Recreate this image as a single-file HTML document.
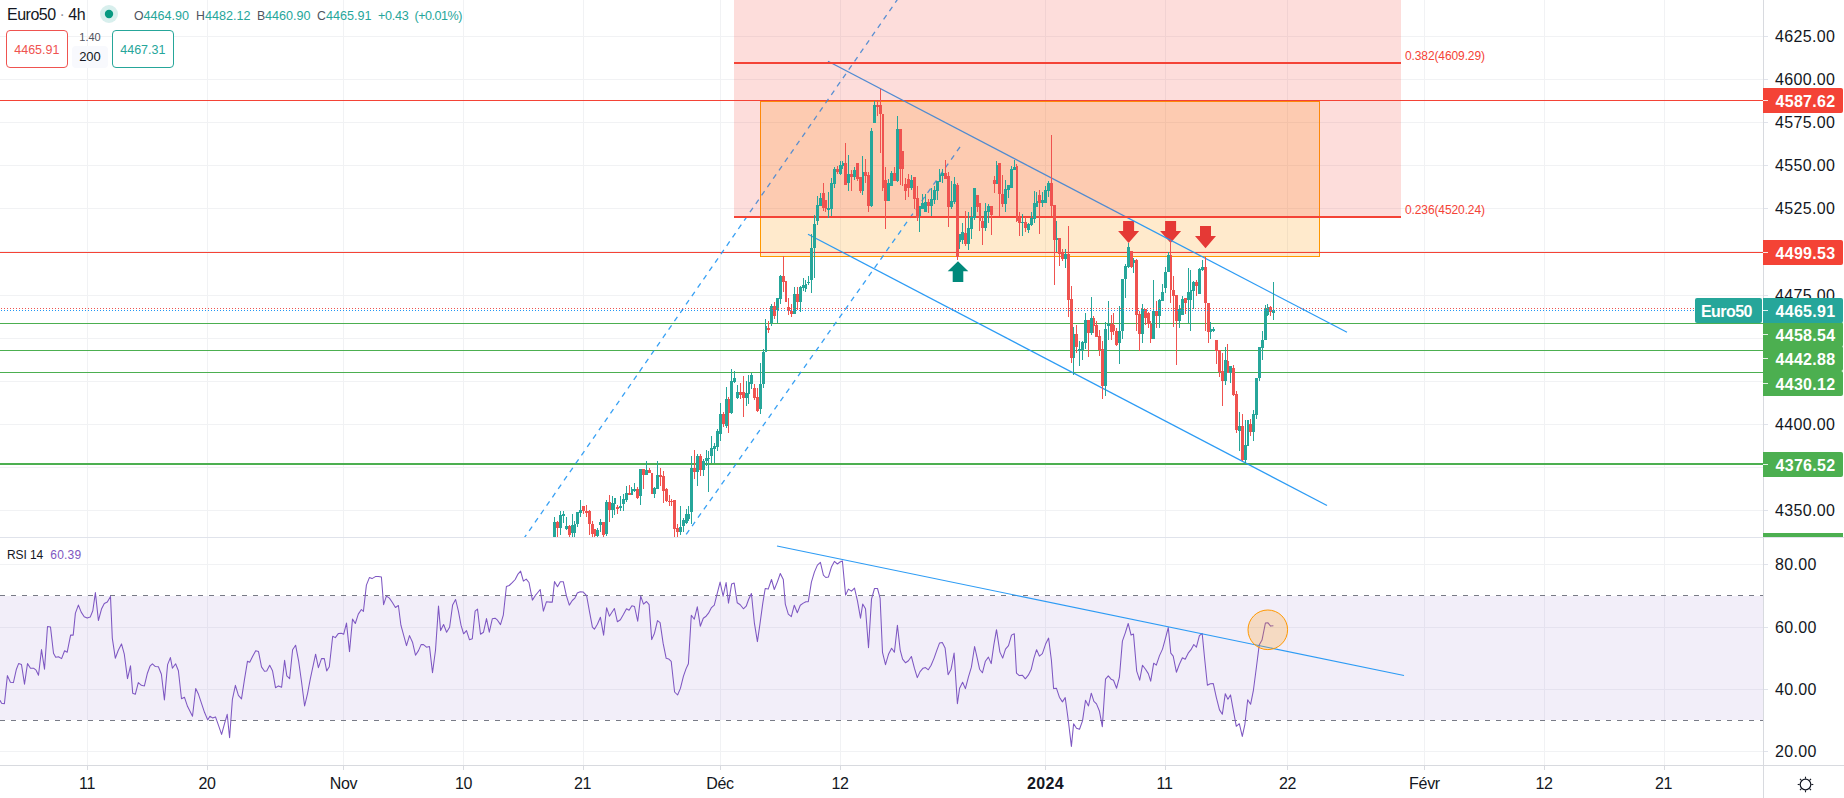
<!DOCTYPE html>
<html><head><meta charset="utf-8"><title>Euro50</title><style>
html,body{margin:0;padding:0;background:#fff}
body{width:1844px;height:798px;position:relative;overflow:hidden;font-family:"Liberation Sans",sans-serif;color:#131722}
svg{position:absolute;left:0;top:0}
svg text{font-family:"Liberation Sans",sans-serif}
.pl{position:absolute;left:1763px;width:80px;text-align:left;font-size:16px;white-space:nowrap;letter-spacing:0.35px;border-radius:0 2px 2px 0;box-sizing:border-box;padding-left:11.9px}
.pl.b{letter-spacing:0.3px;padding-left:12.5px}
.sym{position:absolute;left:1695px;top:298px;width:67px;height:25px;line-height:27px;background:#26a69a;color:#fff;font-weight:bold;font-size:16px;text-align:left;padding-left:6px;box-sizing:border-box;border-radius:2px;letter-spacing:-0.55px}
.pl i{position:absolute;left:0;top:12px;width:5px;height:1px;background:rgba(255,255,255,0.85)}
.tl{position:absolute;top:774px;width:80px;margin-left:-40px;text-align:center;font-size:16px;line-height:20px;letter-spacing:-0.3px}
.t{position:absolute;white-space:nowrap}
.mask{position:absolute;left:1764px;top:538px;width:80px;height:20px;background:#fff}

.hd{top:8px;font-size:12.3px;line-height:16px;color:#50535e}
.hv{top:8px;font-size:12.6px;line-height:16px;color:#26a69a}
.box{position:absolute;top:30px;height:36px;line-height:38px;border:1px solid;border-radius:4px;text-align:center;font-size:12.5px;background:#fff}
</style></head>
<body>
<svg width="1844" height="798" viewBox="0 0 1844 798" shape-rendering="auto">
<rect x="87" y="0" width="1" height="765" fill="#f1f2f4"/>
<rect x="207" y="0" width="1" height="765" fill="#f1f2f4"/>
<rect x="343" y="0" width="1" height="765" fill="#f1f2f4"/>
<rect x="463" y="0" width="1" height="765" fill="#f1f2f4"/>
<rect x="583" y="0" width="1" height="765" fill="#f1f2f4"/>
<rect x="720" y="0" width="1" height="765" fill="#f1f2f4"/>
<rect x="840" y="0" width="1" height="765" fill="#f1f2f4"/>
<rect x="1045" y="0" width="1" height="765" fill="#f1f2f4"/>
<rect x="1165" y="0" width="1" height="765" fill="#f1f2f4"/>
<rect x="1287" y="0" width="1" height="765" fill="#f1f2f4"/>
<rect x="1424" y="0" width="1" height="765" fill="#f1f2f4"/>
<rect x="1544" y="0" width="1" height="765" fill="#f1f2f4"/>
<rect x="1664" y="0" width="1" height="765" fill="#f1f2f4"/>
<rect x="0" y="36" width="1763" height="1" fill="#f1f2f4"/>
<rect x="0" y="79" width="1763" height="1" fill="#f1f2f4"/>
<rect x="0" y="122" width="1763" height="1" fill="#f1f2f4"/>
<rect x="0" y="165" width="1763" height="1" fill="#f1f2f4"/>
<rect x="0" y="208" width="1763" height="1" fill="#f1f2f4"/>
<rect x="0" y="251" width="1763" height="1" fill="#f1f2f4"/>
<rect x="0" y="295" width="1763" height="1" fill="#f1f2f4"/>
<rect x="0" y="338" width="1763" height="1" fill="#f1f2f4"/>
<rect x="0" y="381" width="1763" height="1" fill="#f1f2f4"/>
<rect x="0" y="424" width="1763" height="1" fill="#f1f2f4"/>
<rect x="0" y="467" width="1763" height="1" fill="#f1f2f4"/>
<rect x="0" y="510" width="1763" height="1" fill="#f1f2f4"/>
<rect x="0" y="564" width="1763" height="1" fill="#f1f2f4"/>
<rect x="0" y="627" width="1763" height="1" fill="#f1f2f4"/>
<rect x="0" y="689" width="1763" height="1" fill="#f1f2f4"/>
<rect x="0" y="751" width="1763" height="1" fill="#f1f2f4"/>
<clipPath id="mp"><rect x="0" y="0" width="1763" height="537"/></clipPath>
<clipPath id="rp"><rect x="0" y="538" width="1763" height="227"/></clipPath>
<g clip-path="url(#mp)">
<rect x="760.5" y="101.5" width="559" height="155" fill="rgb(255,152,0)" fill-opacity="0.2" stroke="#ff9800" stroke-width="1"/>
<rect x="0" y="100" width="1763" height="1" fill="#f44336"/>
<rect x="0" y="252" width="1763" height="1" fill="#f44336"/>
<rect x="0" y="323" width="1763" height="1" fill="#4caf50"/>
<rect x="0" y="350" width="1763" height="1" fill="#4caf50"/>
<rect x="0" y="372" width="1763" height="1" fill="#4caf50"/>
<rect x="0" y="463" width="1763" height="2" fill="#4caf50"/>
<path d="M1123.1,221 H1134.1 V231 H1139.1 L1128.6,243 L1118.1,231 H1123.1 Z" fill="#e53935"/>
<path d="M1165.1,221 H1176.1 V231 H1181.1 L1170.6,243 L1160.1,231 H1165.1 Z" fill="#e53935"/>
<path d="M1200.0,226 H1211.0 V236 H1216.0 L1205.5,248.2 L1195.0,236 H1200.0 Z" fill="#e53935"/>
<path d="M958,261.3 L968.3,271.3 H963.3 V282 H952.7 V271.3 H947.7 Z" fill="#00897b"/>
<line x1="904.0" y1="-10.0" x2="519.3" y2="545.0" stroke="#2196f3" stroke-width="1.3" stroke-dasharray="5.2 5" stroke-opacity="0.9"/>
<line x1="960.0" y1="147.0" x2="678.7" y2="545.0" stroke="#2196f3" stroke-width="1.3" stroke-dasharray="5.2 5" stroke-opacity="0.9"/>
<line x1="828.0" y1="61.3" x2="1347.0" y2="332.3" stroke="#2196f3" stroke-width="1.25" stroke-opacity="0.95"/>
<line x1="808.0" y1="234.2" x2="1327.0" y2="505.5" stroke="#2196f3" stroke-width="1.25" stroke-opacity="0.95"/>
<rect x="734" y="0" width="667" height="216.5" fill="rgb(244,67,54)" fill-opacity="0.18"/>
<rect x="734" y="62" width="667" height="2" fill="#f44336"/>
<rect x="734" y="216" width="667" height="2" fill="#f44336"/>
<rect x="554" y="517" width="1" height="20" fill="#26a69a"/>
<rect x="553" y="522" width="3" height="15" fill="#26a69a"/>
<rect x="557" y="521" width="1" height="16" fill="#ef5350"/>
<rect x="556" y="522" width="3" height="6" fill="#ef5350"/>
<rect x="560" y="511" width="1" height="24" fill="#26a69a"/>
<rect x="559" y="515" width="3" height="13" fill="#26a69a"/>
<rect x="563" y="511" width="1" height="12" fill="#26a69a"/>
<rect x="562" y="514" width="3" height="2" fill="#26a69a"/>
<rect x="566" y="517" width="1" height="13" fill="#26a69a"/>
<rect x="565" y="526" width="3" height="3" fill="#26a69a"/>
<rect x="569" y="525" width="1" height="12" fill="#ef5350"/>
<rect x="568" y="526" width="3" height="9" fill="#ef5350"/>
<rect x="572" y="514" width="1" height="23" fill="#26a69a"/>
<rect x="571" y="525" width="3" height="8" fill="#26a69a"/>
<rect x="574" y="521" width="1" height="16" fill="#26a69a"/>
<rect x="574" y="524" width="2" height="9" fill="#26a69a"/>
<rect x="577" y="512" width="1" height="15" fill="#26a69a"/>
<rect x="576" y="512" width="3" height="12" fill="#26a69a"/>
<rect x="580" y="500" width="1" height="17" fill="#26a69a"/>
<rect x="579" y="510" width="3" height="3" fill="#26a69a"/>
<rect x="583" y="506" width="1" height="8" fill="#ef5350"/>
<rect x="582" y="506" width="3" height="5" fill="#ef5350"/>
<rect x="586" y="505" width="1" height="12" fill="#ef5350"/>
<rect x="585" y="511" width="3" height="2" fill="#ef5350"/>
<rect x="589" y="510" width="1" height="25" fill="#ef5350"/>
<rect x="588" y="511" width="3" height="13" fill="#ef5350"/>
<rect x="592" y="521" width="1" height="16" fill="#ef5350"/>
<rect x="591" y="524" width="3" height="10" fill="#ef5350"/>
<rect x="594" y="529" width="1" height="8" fill="#ef5350"/>
<rect x="594" y="529" width="2" height="7" fill="#ef5350"/>
<rect x="597" y="528" width="1" height="9" fill="#26a69a"/>
<rect x="596" y="530" width="3" height="6" fill="#26a69a"/>
<rect x="600" y="519" width="1" height="13" fill="#26a69a"/>
<rect x="599" y="522" width="3" height="3" fill="#26a69a"/>
<rect x="603" y="522" width="1" height="15" fill="#ef5350"/>
<rect x="602" y="522" width="3" height="13" fill="#ef5350"/>
<rect x="606" y="500" width="1" height="36" fill="#26a69a"/>
<rect x="605" y="502" width="3" height="32" fill="#26a69a"/>
<rect x="609" y="495" width="1" height="27" fill="#ef5350"/>
<rect x="608" y="502" width="3" height="8" fill="#ef5350"/>
<rect x="612" y="496" width="1" height="22" fill="#26a69a"/>
<rect x="611" y="503" width="3" height="7" fill="#26a69a"/>
<rect x="614" y="498" width="1" height="17" fill="#26a69a"/>
<rect x="614" y="498" width="2" height="6" fill="#26a69a"/>
<rect x="617" y="505" width="1" height="9" fill="#ef5350"/>
<rect x="616" y="507" width="3" height="2" fill="#ef5350"/>
<rect x="620" y="496" width="1" height="15" fill="#26a69a"/>
<rect x="619" y="506" width="3" height="2" fill="#26a69a"/>
<rect x="623" y="494" width="1" height="17" fill="#26a69a"/>
<rect x="622" y="499" width="3" height="5" fill="#26a69a"/>
<rect x="626" y="486" width="1" height="16" fill="#26a69a"/>
<rect x="625" y="493" width="3" height="7" fill="#26a69a"/>
<rect x="629" y="485" width="1" height="10" fill="#ef5350"/>
<rect x="628" y="493" width="3" height="2" fill="#ef5350"/>
<rect x="631" y="487" width="1" height="8" fill="#26a69a"/>
<rect x="631" y="489" width="2" height="6" fill="#26a69a"/>
<rect x="634" y="483" width="1" height="9" fill="#26a69a"/>
<rect x="633" y="489" width="3" height="2" fill="#26a69a"/>
<rect x="637" y="487" width="1" height="12" fill="#ef5350"/>
<rect x="636" y="489" width="3" height="9" fill="#ef5350"/>
<rect x="640" y="469" width="1" height="36" fill="#26a69a"/>
<rect x="639" y="469" width="3" height="27" fill="#26a69a"/>
<rect x="643" y="469" width="1" height="20" fill="#ef5350"/>
<rect x="642" y="469" width="3" height="6" fill="#ef5350"/>
<rect x="646" y="461" width="1" height="14" fill="#26a69a"/>
<rect x="645" y="470" width="3" height="5" fill="#26a69a"/>
<rect x="649" y="468" width="1" height="5" fill="#ef5350"/>
<rect x="648" y="470" width="3" height="3" fill="#ef5350"/>
<rect x="651" y="473" width="1" height="21" fill="#ef5350"/>
<rect x="651" y="473" width="2" height="21" fill="#ef5350"/>
<rect x="654" y="487" width="1" height="11" fill="#26a69a"/>
<rect x="653" y="488" width="3" height="6" fill="#26a69a"/>
<rect x="657" y="461" width="1" height="28" fill="#26a69a"/>
<rect x="656" y="475" width="3" height="14" fill="#26a69a"/>
<rect x="660" y="468" width="1" height="18" fill="#ef5350"/>
<rect x="659" y="475" width="3" height="2" fill="#ef5350"/>
<rect x="663" y="471" width="1" height="32" fill="#ef5350"/>
<rect x="662" y="476" width="3" height="15" fill="#ef5350"/>
<rect x="666" y="488" width="1" height="14" fill="#ef5350"/>
<rect x="665" y="489" width="3" height="12" fill="#ef5350"/>
<rect x="669" y="495" width="1" height="11" fill="#ef5350"/>
<rect x="668" y="501" width="3" height="1" fill="#ef5350"/>
<rect x="671" y="499" width="1" height="7" fill="#ef5350"/>
<rect x="671" y="501" width="2" height="1" fill="#ef5350"/>
<rect x="674" y="500" width="1" height="37" fill="#ef5350"/>
<rect x="673" y="500" width="3" height="29" fill="#ef5350"/>
<rect x="677" y="524" width="1" height="13" fill="#ef5350"/>
<rect x="676" y="528" width="3" height="4" fill="#ef5350"/>
<rect x="680" y="506" width="1" height="29" fill="#26a69a"/>
<rect x="679" y="527" width="3" height="5" fill="#26a69a"/>
<rect x="683" y="518" width="1" height="14" fill="#26a69a"/>
<rect x="682" y="520" width="3" height="6" fill="#26a69a"/>
<rect x="686" y="509" width="1" height="15" fill="#26a69a"/>
<rect x="685" y="514" width="3" height="9" fill="#26a69a"/>
<rect x="688" y="506" width="1" height="15" fill="#26a69a"/>
<rect x="688" y="514" width="2" height="5" fill="#26a69a"/>
<rect x="691" y="456" width="1" height="68" fill="#26a69a"/>
<rect x="690" y="468" width="3" height="44" fill="#26a69a"/>
<rect x="694" y="450" width="1" height="29" fill="#ef5350"/>
<rect x="693" y="468" width="3" height="4" fill="#ef5350"/>
<rect x="697" y="454" width="1" height="32" fill="#26a69a"/>
<rect x="696" y="456" width="3" height="16" fill="#26a69a"/>
<rect x="700" y="454" width="1" height="22" fill="#ef5350"/>
<rect x="699" y="456" width="3" height="14" fill="#ef5350"/>
<rect x="703" y="459" width="1" height="17" fill="#26a69a"/>
<rect x="702" y="461" width="3" height="9" fill="#26a69a"/>
<rect x="706" y="450" width="1" height="16" fill="#26a69a"/>
<rect x="705" y="458" width="3" height="3" fill="#26a69a"/>
<rect x="708" y="451" width="1" height="41" fill="#26a69a"/>
<rect x="708" y="458" width="2" height="1" fill="#26a69a"/>
<rect x="711" y="436" width="1" height="27" fill="#26a69a"/>
<rect x="710" y="448" width="3" height="8" fill="#26a69a"/>
<rect x="714" y="443" width="1" height="20" fill="#26a69a"/>
<rect x="713" y="446" width="3" height="3" fill="#26a69a"/>
<rect x="717" y="429" width="1" height="22" fill="#26a69a"/>
<rect x="716" y="431" width="3" height="16" fill="#26a69a"/>
<rect x="720" y="403" width="1" height="38" fill="#26a69a"/>
<rect x="719" y="414" width="3" height="20" fill="#26a69a"/>
<rect x="723" y="412" width="1" height="15" fill="#ef5350"/>
<rect x="722" y="414" width="3" height="10" fill="#ef5350"/>
<rect x="726" y="387" width="1" height="41" fill="#26a69a"/>
<rect x="725" y="399" width="3" height="27" fill="#26a69a"/>
<rect x="728" y="397" width="1" height="36" fill="#ef5350"/>
<rect x="728" y="399" width="2" height="14" fill="#ef5350"/>
<rect x="731" y="369" width="1" height="45" fill="#26a69a"/>
<rect x="730" y="381" width="3" height="32" fill="#26a69a"/>
<rect x="734" y="371" width="1" height="12" fill="#26a69a"/>
<rect x="733" y="378" width="3" height="4" fill="#26a69a"/>
<rect x="737" y="385" width="1" height="14" fill="#26a69a"/>
<rect x="736" y="392" width="3" height="6" fill="#26a69a"/>
<rect x="740" y="383" width="1" height="16" fill="#ef5350"/>
<rect x="739" y="392" width="3" height="3" fill="#ef5350"/>
<rect x="743" y="376" width="1" height="41" fill="#ef5350"/>
<rect x="742" y="392" width="3" height="6" fill="#ef5350"/>
<rect x="746" y="381" width="1" height="25" fill="#26a69a"/>
<rect x="745" y="393" width="3" height="5" fill="#26a69a"/>
<rect x="748" y="375" width="1" height="29" fill="#26a69a"/>
<rect x="748" y="382" width="2" height="12" fill="#26a69a"/>
<rect x="751" y="373" width="1" height="16" fill="#26a69a"/>
<rect x="750" y="375" width="3" height="9" fill="#26a69a"/>
<rect x="754" y="384" width="1" height="16" fill="#ef5350"/>
<rect x="753" y="388" width="3" height="10" fill="#ef5350"/>
<rect x="757" y="388" width="1" height="24" fill="#ef5350"/>
<rect x="756" y="397" width="3" height="14" fill="#ef5350"/>
<rect x="760" y="363" width="1" height="51" fill="#26a69a"/>
<rect x="759" y="384" width="3" height="25" fill="#26a69a"/>
<rect x="763" y="349" width="1" height="39" fill="#26a69a"/>
<rect x="762" y="352" width="3" height="32" fill="#26a69a"/>
<rect x="765" y="319" width="1" height="33" fill="#26a69a"/>
<rect x="765" y="326" width="2" height="26" fill="#26a69a"/>
<rect x="768" y="321" width="1" height="12" fill="#ef5350"/>
<rect x="767" y="328" width="3" height="2" fill="#ef5350"/>
<rect x="771" y="304" width="1" height="22" fill="#26a69a"/>
<rect x="770" y="306" width="3" height="17" fill="#26a69a"/>
<rect x="774" y="302" width="1" height="17" fill="#ef5350"/>
<rect x="773" y="306" width="3" height="10" fill="#ef5350"/>
<rect x="777" y="298" width="1" height="25" fill="#26a69a"/>
<rect x="776" y="298" width="3" height="12" fill="#26a69a"/>
<rect x="780" y="275" width="1" height="29" fill="#26a69a"/>
<rect x="779" y="276" width="3" height="23" fill="#26a69a"/>
<rect x="783" y="256" width="1" height="36" fill="#ef5350"/>
<rect x="782" y="276" width="3" height="6" fill="#ef5350"/>
<rect x="785" y="281" width="1" height="21" fill="#ef5350"/>
<rect x="785" y="281" width="2" height="21" fill="#ef5350"/>
<rect x="788" y="298" width="1" height="17" fill="#ef5350"/>
<rect x="787" y="307" width="3" height="4" fill="#ef5350"/>
<rect x="791" y="304" width="1" height="13" fill="#ef5350"/>
<rect x="790" y="311" width="3" height="3" fill="#ef5350"/>
<rect x="794" y="287" width="1" height="27" fill="#26a69a"/>
<rect x="793" y="294" width="3" height="20" fill="#26a69a"/>
<rect x="797" y="287" width="1" height="23" fill="#ef5350"/>
<rect x="796" y="294" width="3" height="8" fill="#ef5350"/>
<rect x="800" y="286" width="1" height="26" fill="#26a69a"/>
<rect x="799" y="287" width="3" height="15" fill="#26a69a"/>
<rect x="803" y="278" width="1" height="13" fill="#26a69a"/>
<rect x="802" y="285" width="3" height="3" fill="#26a69a"/>
<rect x="805" y="280" width="1" height="12" fill="#26a69a"/>
<rect x="805" y="284" width="2" height="5" fill="#26a69a"/>
<rect x="808" y="276" width="1" height="9" fill="#26a69a"/>
<rect x="807" y="282" width="3" height="1" fill="#26a69a"/>
<rect x="811" y="234" width="1" height="59" fill="#26a69a"/>
<rect x="810" y="248" width="3" height="32" fill="#26a69a"/>
<rect x="814" y="215" width="1" height="63" fill="#26a69a"/>
<rect x="813" y="224" width="3" height="24" fill="#26a69a"/>
<rect x="817" y="196" width="1" height="29" fill="#26a69a"/>
<rect x="816" y="205" width="3" height="16" fill="#26a69a"/>
<rect x="820" y="193" width="1" height="13" fill="#26a69a"/>
<rect x="819" y="198" width="3" height="8" fill="#26a69a"/>
<rect x="823" y="183" width="1" height="28" fill="#ef5350"/>
<rect x="822" y="193" width="3" height="15" fill="#ef5350"/>
<rect x="825" y="200" width="1" height="12" fill="#ef5350"/>
<rect x="825" y="200" width="2" height="9" fill="#ef5350"/>
<rect x="828" y="192" width="1" height="26" fill="#26a69a"/>
<rect x="827" y="208" width="3" height="2" fill="#26a69a"/>
<rect x="831" y="178" width="1" height="38" fill="#26a69a"/>
<rect x="830" y="183" width="3" height="26" fill="#26a69a"/>
<rect x="834" y="167" width="1" height="21" fill="#26a69a"/>
<rect x="833" y="169" width="3" height="15" fill="#26a69a"/>
<rect x="837" y="166" width="1" height="8" fill="#ef5350"/>
<rect x="836" y="169" width="3" height="3" fill="#ef5350"/>
<rect x="840" y="161" width="1" height="14" fill="#26a69a"/>
<rect x="839" y="165" width="3" height="9" fill="#26a69a"/>
<rect x="842" y="161" width="1" height="8" fill="#26a69a"/>
<rect x="842" y="163" width="2" height="3" fill="#26a69a"/>
<rect x="845" y="143" width="1" height="42" fill="#ef5350"/>
<rect x="844" y="163" width="3" height="22" fill="#ef5350"/>
<rect x="848" y="155" width="1" height="36" fill="#26a69a"/>
<rect x="847" y="174" width="3" height="9" fill="#26a69a"/>
<rect x="851" y="170" width="1" height="21" fill="#ef5350"/>
<rect x="850" y="174" width="3" height="3" fill="#ef5350"/>
<rect x="854" y="167" width="1" height="13" fill="#26a69a"/>
<rect x="853" y="170" width="3" height="7" fill="#26a69a"/>
<rect x="857" y="163" width="1" height="18" fill="#ef5350"/>
<rect x="856" y="163" width="3" height="16" fill="#ef5350"/>
<rect x="860" y="177" width="1" height="16" fill="#ef5350"/>
<rect x="859" y="177" width="3" height="14" fill="#ef5350"/>
<rect x="862" y="156" width="1" height="39" fill="#26a69a"/>
<rect x="862" y="172" width="2" height="19" fill="#26a69a"/>
<rect x="865" y="159" width="1" height="24" fill="#ef5350"/>
<rect x="864" y="172" width="3" height="4" fill="#ef5350"/>
<rect x="868" y="172" width="1" height="40" fill="#ef5350"/>
<rect x="867" y="175" width="3" height="31" fill="#ef5350"/>
<rect x="871" y="128" width="1" height="79" fill="#26a69a"/>
<rect x="870" y="131" width="3" height="75" fill="#26a69a"/>
<rect x="874" y="101" width="1" height="22" fill="#26a69a"/>
<rect x="873" y="105" width="3" height="18" fill="#26a69a"/>
<rect x="877" y="101" width="1" height="15" fill="#ef5350"/>
<rect x="876" y="105" width="3" height="2" fill="#ef5350"/>
<rect x="880" y="89" width="1" height="64" fill="#ef5350"/>
<rect x="879" y="105" width="3" height="9" fill="#ef5350"/>
<rect x="882" y="114" width="1" height="77" fill="#ef5350"/>
<rect x="882" y="114" width="2" height="74" fill="#ef5350"/>
<rect x="885" y="167" width="1" height="62" fill="#ef5350"/>
<rect x="884" y="180" width="3" height="21" fill="#ef5350"/>
<rect x="888" y="179" width="1" height="22" fill="#26a69a"/>
<rect x="887" y="183" width="3" height="18" fill="#26a69a"/>
<rect x="891" y="171" width="1" height="15" fill="#26a69a"/>
<rect x="890" y="173" width="3" height="13" fill="#26a69a"/>
<rect x="894" y="167" width="1" height="14" fill="#ef5350"/>
<rect x="893" y="173" width="3" height="8" fill="#ef5350"/>
<rect x="897" y="116" width="1" height="66" fill="#26a69a"/>
<rect x="896" y="129" width="3" height="52" fill="#26a69a"/>
<rect x="900" y="129" width="1" height="56" fill="#ef5350"/>
<rect x="899" y="129" width="3" height="40" fill="#ef5350"/>
<rect x="902" y="151" width="1" height="35" fill="#ef5350"/>
<rect x="902" y="151" width="2" height="18" fill="#ef5350"/>
<rect x="905" y="178" width="1" height="22" fill="#ef5350"/>
<rect x="904" y="184" width="3" height="7" fill="#ef5350"/>
<rect x="908" y="174" width="1" height="23" fill="#ef5350"/>
<rect x="907" y="179" width="3" height="9" fill="#ef5350"/>
<rect x="911" y="175" width="1" height="15" fill="#26a69a"/>
<rect x="910" y="180" width="3" height="8" fill="#26a69a"/>
<rect x="914" y="177" width="1" height="32" fill="#ef5350"/>
<rect x="913" y="177" width="3" height="22" fill="#ef5350"/>
<rect x="917" y="186" width="1" height="35" fill="#ef5350"/>
<rect x="916" y="198" width="3" height="20" fill="#ef5350"/>
<rect x="919" y="206" width="1" height="26" fill="#26a69a"/>
<rect x="919" y="206" width="2" height="10" fill="#26a69a"/>
<rect x="922" y="194" width="1" height="15" fill="#26a69a"/>
<rect x="921" y="203" width="3" height="6" fill="#26a69a"/>
<rect x="925" y="194" width="1" height="18" fill="#26a69a"/>
<rect x="924" y="202" width="3" height="10" fill="#26a69a"/>
<rect x="928" y="199" width="1" height="14" fill="#ef5350"/>
<rect x="927" y="202" width="3" height="4" fill="#ef5350"/>
<rect x="931" y="188" width="1" height="28" fill="#26a69a"/>
<rect x="930" y="199" width="3" height="7" fill="#26a69a"/>
<rect x="934" y="186" width="1" height="18" fill="#26a69a"/>
<rect x="933" y="190" width="3" height="10" fill="#26a69a"/>
<rect x="937" y="181" width="1" height="19" fill="#26a69a"/>
<rect x="936" y="181" width="3" height="10" fill="#26a69a"/>
<rect x="939" y="169" width="1" height="13" fill="#26a69a"/>
<rect x="939" y="175" width="2" height="7" fill="#26a69a"/>
<rect x="942" y="169" width="1" height="14" fill="#26a69a"/>
<rect x="941" y="173" width="3" height="3" fill="#26a69a"/>
<rect x="945" y="160" width="1" height="19" fill="#ef5350"/>
<rect x="944" y="173" width="3" height="6" fill="#ef5350"/>
<rect x="948" y="172" width="1" height="55" fill="#ef5350"/>
<rect x="947" y="176" width="3" height="31" fill="#ef5350"/>
<rect x="951" y="181" width="1" height="28" fill="#26a69a"/>
<rect x="950" y="201" width="3" height="6" fill="#26a69a"/>
<rect x="954" y="177" width="1" height="27" fill="#26a69a"/>
<rect x="953" y="184" width="3" height="18" fill="#26a69a"/>
<rect x="957" y="183" width="1" height="77" fill="#ef5350"/>
<rect x="956" y="185" width="3" height="72" fill="#ef5350"/>
<rect x="959" y="234" width="1" height="15" fill="#26a69a"/>
<rect x="959" y="234" width="2" height="8" fill="#26a69a"/>
<rect x="962" y="223" width="1" height="21" fill="#26a69a"/>
<rect x="961" y="232" width="3" height="8" fill="#26a69a"/>
<rect x="965" y="211" width="1" height="35" fill="#ef5350"/>
<rect x="964" y="233" width="3" height="11" fill="#ef5350"/>
<rect x="968" y="212" width="1" height="38" fill="#26a69a"/>
<rect x="967" y="228" width="3" height="16" fill="#26a69a"/>
<rect x="971" y="207" width="1" height="32" fill="#26a69a"/>
<rect x="970" y="217" width="3" height="12" fill="#26a69a"/>
<rect x="974" y="188" width="1" height="32" fill="#26a69a"/>
<rect x="973" y="188" width="3" height="30" fill="#26a69a"/>
<rect x="977" y="195" width="1" height="17" fill="#ef5350"/>
<rect x="976" y="195" width="3" height="12" fill="#ef5350"/>
<rect x="979" y="203" width="1" height="28" fill="#ef5350"/>
<rect x="979" y="203" width="2" height="18" fill="#ef5350"/>
<rect x="982" y="217" width="1" height="28" fill="#ef5350"/>
<rect x="981" y="221" width="3" height="7" fill="#ef5350"/>
<rect x="985" y="203" width="1" height="28" fill="#26a69a"/>
<rect x="984" y="211" width="3" height="17" fill="#26a69a"/>
<rect x="988" y="204" width="1" height="19" fill="#26a69a"/>
<rect x="987" y="206" width="3" height="6" fill="#26a69a"/>
<rect x="991" y="206" width="1" height="29" fill="#ef5350"/>
<rect x="990" y="206" width="3" height="9" fill="#ef5350"/>
<rect x="994" y="176" width="1" height="17" fill="#ef5350"/>
<rect x="993" y="180" width="3" height="4" fill="#ef5350"/>
<rect x="996" y="161" width="1" height="23" fill="#26a69a"/>
<rect x="996" y="165" width="2" height="19" fill="#26a69a"/>
<rect x="999" y="163" width="1" height="53" fill="#ef5350"/>
<rect x="998" y="163" width="3" height="31" fill="#ef5350"/>
<rect x="1002" y="175" width="1" height="32" fill="#ef5350"/>
<rect x="1001" y="194" width="3" height="10" fill="#ef5350"/>
<rect x="1005" y="180" width="1" height="32" fill="#26a69a"/>
<rect x="1004" y="189" width="3" height="15" fill="#26a69a"/>
<rect x="1008" y="185" width="1" height="13" fill="#26a69a"/>
<rect x="1007" y="185" width="3" height="5" fill="#26a69a"/>
<rect x="1011" y="166" width="1" height="22" fill="#26a69a"/>
<rect x="1010" y="169" width="3" height="19" fill="#26a69a"/>
<rect x="1014" y="160" width="1" height="10" fill="#26a69a"/>
<rect x="1013" y="167" width="3" height="3" fill="#26a69a"/>
<rect x="1016" y="164" width="1" height="58" fill="#ef5350"/>
<rect x="1016" y="166" width="2" height="55" fill="#ef5350"/>
<rect x="1019" y="212" width="1" height="24" fill="#ef5350"/>
<rect x="1018" y="218" width="3" height="5" fill="#ef5350"/>
<rect x="1022" y="214" width="1" height="22" fill="#26a69a"/>
<rect x="1021" y="222" width="3" height="1" fill="#26a69a"/>
<rect x="1025" y="217" width="1" height="15" fill="#ef5350"/>
<rect x="1024" y="222" width="3" height="6" fill="#ef5350"/>
<rect x="1028" y="223" width="1" height="10" fill="#26a69a"/>
<rect x="1027" y="224" width="3" height="6" fill="#26a69a"/>
<rect x="1031" y="212" width="1" height="14" fill="#26a69a"/>
<rect x="1030" y="218" width="3" height="7" fill="#26a69a"/>
<rect x="1034" y="191" width="1" height="32" fill="#26a69a"/>
<rect x="1033" y="203" width="3" height="16" fill="#26a69a"/>
<rect x="1036" y="192" width="1" height="15" fill="#26a69a"/>
<rect x="1036" y="201" width="2" height="6" fill="#26a69a"/>
<rect x="1039" y="190" width="1" height="44" fill="#ef5350"/>
<rect x="1038" y="195" width="3" height="8" fill="#ef5350"/>
<rect x="1042" y="192" width="1" height="15" fill="#26a69a"/>
<rect x="1041" y="200" width="3" height="3" fill="#26a69a"/>
<rect x="1045" y="186" width="1" height="17" fill="#26a69a"/>
<rect x="1044" y="190" width="3" height="13" fill="#26a69a"/>
<rect x="1048" y="181" width="1" height="16" fill="#26a69a"/>
<rect x="1047" y="183" width="3" height="8" fill="#26a69a"/>
<rect x="1051" y="135" width="1" height="81" fill="#ef5350"/>
<rect x="1050" y="183" width="3" height="23" fill="#ef5350"/>
<rect x="1054" y="205" width="1" height="80" fill="#ef5350"/>
<rect x="1053" y="205" width="3" height="35" fill="#ef5350"/>
<rect x="1056" y="221" width="1" height="31" fill="#26a69a"/>
<rect x="1056" y="238" width="2" height="2" fill="#26a69a"/>
<rect x="1059" y="238" width="1" height="28" fill="#ef5350"/>
<rect x="1058" y="238" width="3" height="16" fill="#ef5350"/>
<rect x="1062" y="249" width="1" height="12" fill="#ef5350"/>
<rect x="1061" y="253" width="3" height="6" fill="#ef5350"/>
<rect x="1065" y="249" width="1" height="19" fill="#26a69a"/>
<rect x="1064" y="254" width="3" height="5" fill="#26a69a"/>
<rect x="1068" y="226" width="1" height="91" fill="#ef5350"/>
<rect x="1067" y="254" width="3" height="46" fill="#ef5350"/>
<rect x="1071" y="286" width="1" height="77" fill="#ef5350"/>
<rect x="1070" y="299" width="3" height="59" fill="#ef5350"/>
<rect x="1073" y="327" width="1" height="48" fill="#26a69a"/>
<rect x="1073" y="334" width="2" height="24" fill="#26a69a"/>
<rect x="1076" y="325" width="1" height="28" fill="#ef5350"/>
<rect x="1075" y="334" width="3" height="13" fill="#ef5350"/>
<rect x="1079" y="341" width="1" height="25" fill="#26a69a"/>
<rect x="1078" y="349" width="3" height="2" fill="#26a69a"/>
<rect x="1082" y="341" width="1" height="19" fill="#26a69a"/>
<rect x="1081" y="342" width="3" height="8" fill="#26a69a"/>
<rect x="1085" y="313" width="1" height="36" fill="#26a69a"/>
<rect x="1084" y="320" width="3" height="23" fill="#26a69a"/>
<rect x="1088" y="320" width="1" height="37" fill="#ef5350"/>
<rect x="1087" y="320" width="3" height="13" fill="#ef5350"/>
<rect x="1091" y="297" width="1" height="38" fill="#26a69a"/>
<rect x="1090" y="318" width="3" height="15" fill="#26a69a"/>
<rect x="1093" y="316" width="1" height="17" fill="#ef5350"/>
<rect x="1093" y="318" width="2" height="8" fill="#ef5350"/>
<rect x="1096" y="321" width="1" height="16" fill="#ef5350"/>
<rect x="1095" y="325" width="3" height="12" fill="#ef5350"/>
<rect x="1099" y="330" width="1" height="26" fill="#ef5350"/>
<rect x="1098" y="336" width="3" height="14" fill="#ef5350"/>
<rect x="1102" y="341" width="1" height="58" fill="#ef5350"/>
<rect x="1101" y="349" width="3" height="37" fill="#ef5350"/>
<rect x="1105" y="322" width="1" height="74" fill="#26a69a"/>
<rect x="1104" y="329" width="3" height="57" fill="#26a69a"/>
<rect x="1108" y="301" width="1" height="39" fill="#26a69a"/>
<rect x="1107" y="324" width="3" height="2" fill="#26a69a"/>
<rect x="1111" y="315" width="1" height="25" fill="#ef5350"/>
<rect x="1110" y="324" width="3" height="8" fill="#ef5350"/>
<rect x="1113" y="313" width="1" height="22" fill="#ef5350"/>
<rect x="1113" y="325" width="2" height="6" fill="#ef5350"/>
<rect x="1116" y="328" width="1" height="18" fill="#ef5350"/>
<rect x="1115" y="331" width="3" height="14" fill="#ef5350"/>
<rect x="1119" y="306" width="1" height="58" fill="#26a69a"/>
<rect x="1118" y="331" width="3" height="12" fill="#26a69a"/>
<rect x="1122" y="279" width="1" height="60" fill="#26a69a"/>
<rect x="1121" y="279" width="3" height="52" fill="#26a69a"/>
<rect x="1125" y="264" width="1" height="34" fill="#26a69a"/>
<rect x="1124" y="266" width="3" height="13" fill="#26a69a"/>
<rect x="1128" y="243" width="1" height="25" fill="#26a69a"/>
<rect x="1127" y="247" width="3" height="20" fill="#26a69a"/>
<rect x="1131" y="251" width="1" height="17" fill="#ef5350"/>
<rect x="1130" y="251" width="3" height="16" fill="#ef5350"/>
<rect x="1133" y="258" width="1" height="15" fill="#26a69a"/>
<rect x="1133" y="260" width="2" height="3" fill="#26a69a"/>
<rect x="1136" y="259" width="1" height="72" fill="#ef5350"/>
<rect x="1135" y="260" width="3" height="55" fill="#ef5350"/>
<rect x="1139" y="311" width="1" height="40" fill="#ef5350"/>
<rect x="1138" y="314" width="3" height="20" fill="#ef5350"/>
<rect x="1142" y="304" width="1" height="39" fill="#26a69a"/>
<rect x="1141" y="309" width="3" height="25" fill="#26a69a"/>
<rect x="1145" y="309" width="1" height="16" fill="#ef5350"/>
<rect x="1144" y="309" width="3" height="9" fill="#ef5350"/>
<rect x="1148" y="312" width="1" height="16" fill="#ef5350"/>
<rect x="1147" y="313" width="3" height="11" fill="#ef5350"/>
<rect x="1150" y="321" width="1" height="22" fill="#ef5350"/>
<rect x="1150" y="324" width="2" height="15" fill="#ef5350"/>
<rect x="1153" y="280" width="1" height="59" fill="#26a69a"/>
<rect x="1152" y="311" width="3" height="28" fill="#26a69a"/>
<rect x="1156" y="301" width="1" height="27" fill="#ef5350"/>
<rect x="1155" y="311" width="3" height="5" fill="#ef5350"/>
<rect x="1159" y="299" width="1" height="29" fill="#26a69a"/>
<rect x="1158" y="300" width="3" height="16" fill="#26a69a"/>
<rect x="1162" y="284" width="1" height="17" fill="#26a69a"/>
<rect x="1161" y="292" width="3" height="9" fill="#26a69a"/>
<rect x="1165" y="267" width="1" height="26" fill="#26a69a"/>
<rect x="1164" y="272" width="3" height="16" fill="#26a69a"/>
<rect x="1168" y="252" width="1" height="20" fill="#26a69a"/>
<rect x="1167" y="255" width="3" height="17" fill="#26a69a"/>
<rect x="1170" y="240" width="1" height="63" fill="#ef5350"/>
<rect x="1170" y="255" width="2" height="35" fill="#ef5350"/>
<rect x="1173" y="276" width="1" height="51" fill="#ef5350"/>
<rect x="1172" y="290" width="3" height="6" fill="#ef5350"/>
<rect x="1176" y="295" width="1" height="70" fill="#ef5350"/>
<rect x="1175" y="295" width="3" height="26" fill="#ef5350"/>
<rect x="1179" y="305" width="1" height="23" fill="#26a69a"/>
<rect x="1178" y="309" width="3" height="12" fill="#26a69a"/>
<rect x="1182" y="296" width="1" height="19" fill="#26a69a"/>
<rect x="1181" y="299" width="3" height="16" fill="#26a69a"/>
<rect x="1185" y="298" width="1" height="16" fill="#ef5350"/>
<rect x="1184" y="298" width="3" height="5" fill="#ef5350"/>
<rect x="1188" y="268" width="1" height="55" fill="#26a69a"/>
<rect x="1187" y="292" width="3" height="8" fill="#26a69a"/>
<rect x="1190" y="270" width="1" height="61" fill="#26a69a"/>
<rect x="1190" y="290" width="2" height="10" fill="#26a69a"/>
<rect x="1193" y="281" width="1" height="28" fill="#26a69a"/>
<rect x="1192" y="282" width="3" height="9" fill="#26a69a"/>
<rect x="1196" y="280" width="1" height="16" fill="#ef5350"/>
<rect x="1195" y="282" width="3" height="4" fill="#ef5350"/>
<rect x="1199" y="268" width="1" height="26" fill="#26a69a"/>
<rect x="1198" y="269" width="3" height="25" fill="#26a69a"/>
<rect x="1202" y="260" width="1" height="11" fill="#26a69a"/>
<rect x="1201" y="267" width="3" height="3" fill="#26a69a"/>
<rect x="1205" y="257" width="1" height="74" fill="#ef5350"/>
<rect x="1204" y="267" width="3" height="36" fill="#ef5350"/>
<rect x="1208" y="303" width="1" height="40" fill="#ef5350"/>
<rect x="1207" y="303" width="3" height="29" fill="#ef5350"/>
<rect x="1210" y="322" width="1" height="17" fill="#26a69a"/>
<rect x="1210" y="329" width="2" height="3" fill="#26a69a"/>
<rect x="1213" y="327" width="1" height="5" fill="#26a69a"/>
<rect x="1212" y="329" width="3" height="2" fill="#26a69a"/>
<rect x="1216" y="340" width="1" height="24" fill="#ef5350"/>
<rect x="1215" y="340" width="3" height="11" fill="#ef5350"/>
<rect x="1219" y="350" width="1" height="27" fill="#ef5350"/>
<rect x="1218" y="350" width="3" height="22" fill="#ef5350"/>
<rect x="1222" y="353" width="1" height="53" fill="#ef5350"/>
<rect x="1221" y="371" width="3" height="10" fill="#ef5350"/>
<rect x="1225" y="347" width="1" height="38" fill="#26a69a"/>
<rect x="1224" y="360" width="3" height="21" fill="#26a69a"/>
<rect x="1227" y="344" width="1" height="29" fill="#ef5350"/>
<rect x="1227" y="361" width="2" height="12" fill="#ef5350"/>
<rect x="1230" y="366" width="1" height="17" fill="#26a69a"/>
<rect x="1229" y="366" width="3" height="7" fill="#26a69a"/>
<rect x="1233" y="365" width="1" height="31" fill="#ef5350"/>
<rect x="1232" y="368" width="3" height="27" fill="#ef5350"/>
<rect x="1236" y="391" width="1" height="42" fill="#ef5350"/>
<rect x="1235" y="394" width="3" height="36" fill="#ef5350"/>
<rect x="1239" y="412" width="1" height="39" fill="#26a69a"/>
<rect x="1238" y="426" width="3" height="5" fill="#26a69a"/>
<rect x="1242" y="414" width="1" height="47" fill="#ef5350"/>
<rect x="1241" y="426" width="3" height="34" fill="#ef5350"/>
<rect x="1245" y="420" width="1" height="43" fill="#26a69a"/>
<rect x="1244" y="445" width="3" height="15" fill="#26a69a"/>
<rect x="1247" y="420" width="1" height="26" fill="#26a69a"/>
<rect x="1247" y="420" width="2" height="26" fill="#26a69a"/>
<rect x="1250" y="419" width="1" height="17" fill="#ef5350"/>
<rect x="1249" y="424" width="3" height="8" fill="#ef5350"/>
<rect x="1253" y="410" width="1" height="31" fill="#26a69a"/>
<rect x="1252" y="414" width="3" height="18" fill="#26a69a"/>
<rect x="1256" y="378" width="1" height="41" fill="#26a69a"/>
<rect x="1255" y="378" width="3" height="37" fill="#26a69a"/>
<rect x="1259" y="347" width="1" height="34" fill="#26a69a"/>
<rect x="1258" y="347" width="3" height="31" fill="#26a69a"/>
<rect x="1262" y="331" width="1" height="29" fill="#26a69a"/>
<rect x="1261" y="340" width="3" height="8" fill="#26a69a"/>
<rect x="1265" y="305" width="1" height="35" fill="#26a69a"/>
<rect x="1264" y="308" width="3" height="32" fill="#26a69a"/>
<rect x="1267" y="304" width="1" height="12" fill="#26a69a"/>
<rect x="1267" y="307" width="2" height="8" fill="#26a69a"/>
<rect x="1270" y="306" width="1" height="10" fill="#ef5350"/>
<rect x="1269" y="307" width="3" height="5" fill="#ef5350"/>
<rect x="1273" y="282" width="1" height="38" fill="#26a69a"/>
<rect x="1272" y="310" width="3" height="3" fill="#26a69a"/>
<line x1="1" y1="308.5" x2="1697" y2="308.5" stroke="#ef5350" stroke-width="1" stroke-dasharray="1 2"/>
<line x1="1" y1="310.5" x2="1697" y2="310.5" stroke="#2196f3" stroke-width="1" stroke-dasharray="1 2"/>
</g>
<text x="1405" y="60" font-size="12" fill="#f44336" textLength="80">0.382(4609.29)</text>
<text x="1405" y="214" font-size="12" fill="#f44336" textLength="80">0.236(4520.24)</text>
<g clip-path="url(#rp)">
<rect x="0" y="596" width="1763" height="124" fill="rgb(126,87,194)" fill-opacity="0.1"/>
<line x1="0" y1="595.5" x2="1763" y2="595.5" stroke="#787b86" stroke-width="1" stroke-dasharray="5 6"/>
<line x1="0" y1="720.5" x2="1763" y2="720.5" stroke="#787b86" stroke-width="1" stroke-dasharray="5 6"/>
<polyline points="0.0,700.3 1.6,703.3 4.4,703.7 7.4,675.6 10.4,682.2 13.4,682.6 16.4,669.2 18.6,663.6 21.5,664.6 24.5,684.2 27.5,663.6 30.5,668.2 33.5,668.2 36.1,670.2 38.5,675.2 41.5,649.6 44.5,669.2 47.5,626.5 50.5,627.1 53.5,653.2 55.7,657.2 58.5,656.8 61.6,658.6 64.6,650.8 67.2,652.2 70.6,635.1 73.2,635.1 75.4,613.1 78.4,605.1 81.2,612.1 84.2,616.7 87.2,618.1 90.2,617.1 92.8,610.7 95.4,592.6 98.4,620.5 101.5,609.1 104.3,603.4 107.3,602.0 110.5,596.4 112.3,638.1 115.3,658.2 118.3,650.2 121.5,643.9 124.3,654.2 127.5,678.6 130.5,665.8 132.7,693.3 135.3,694.3 138.3,682.6 141.4,685.3 144.4,685.9 147.4,673.2 150.0,666.2 152.4,663.8 155.4,666.6 158.4,666.8 161.4,674.2 164.4,699.9 167.6,664.6 170.4,657.6 172.4,668.2 175.6,663.8 178.4,670.8 181.5,698.7 184.5,697.3 187.5,706.3 192.5,716.3 195.7,688.5 198.5,694.3 201.5,703.3 204.5,712.3 207.7,719.9 209.9,716.3 212.5,717.9 215.5,716.9 218.5,725.4 221.6,734.4 224.6,723.3 227.2,714.3 229.6,737.8 232.4,699.3 235.4,685.3 238.4,695.3 241.5,698.9 244.5,679.3 247.5,661.2 249.7,662.2 252.7,656.2 255.7,650.8 258.5,651.6 261.5,666.9 264.5,671.3 266.7,670.9 269.7,665.3 272.5,670.7 275.5,687.7 278.5,685.9 281.6,687.3 284.6,660.2 286.8,675.9 289.6,678.7 292.6,649.8 295.6,645.2 298.6,660.8 301.6,682.3 304.6,706.0 307.6,693.3 310.2,679.3 315.6,654.2 318.4,667.7 321.5,658.6 324.3,658.6 326.7,670.9 329.3,666.7 332.7,636.2 335.3,637.6 338.3,633.6 341.3,633.2 343.7,634.2 346.5,623.1 349.5,651.6 352.5,619.1 355.3,623.5 358.3,614.1 361.4,609.5 363.4,611.5 366.4,585.1 369.4,577.6 372.0,578.6 375.4,576.6 378.4,576.4 381.4,577.0 383.6,604.7 386.4,596.1 389.4,598.1 392.4,602.5 395.4,607.5 398.4,605.5 400.9,625.2 403.9,636.2 406.5,645.6 409.5,635.6 412.5,642.2 415.5,655.2 418.5,650.6 421.1,644.6 423.5,644.6 426.5,647.2 429.5,646.6 432.5,672.7 435.5,650.2 438.5,606.1 440.6,630.6 443.6,624.5 446.6,632.2 449.6,627.2 452.6,605.1 455.6,599.5 458.4,611.2 461.0,625.2 463.6,633.8 466.5,630.6 469.5,639.8 472.3,638.8 475.1,611.2 477.5,609.1 480.5,634.2 483.5,632.2 486.5,618.6 489.3,632.2 492.3,618.8 495.1,618.2 497.5,620.2 500.5,624.6 503.3,615.2 506.4,586.5 509.2,585.5 512.2,582.7 515.2,579.5 518.0,574.1 520.6,571.1 523.4,581.1 526.2,579.1 529.0,582.5 532.4,600.1 535.2,595.7 537.8,592.5 540.2,589.5 543.4,611.2 546.5,601.7 549.3,602.1 552.3,602.1 554.5,581.5 557.5,586.7 560.3,581.7 563.3,581.7 566.5,596.1 569.3,605.1 572.3,600.5 574.9,598.1 577.3,593.1 580.3,591.7 583.3,592.1 586.6,595.7 589.4,611.2 592.4,627.2 594.4,629.2 597.4,624.2 600.4,617.2 603.6,635.2 606.6,607.7 609.4,616.2 614.4,608.5 617.4,621.8 620.4,619.8 623.4,614.6 626.5,608.7 629.1,610.2 631.9,605.7 634.5,606.5 637.7,621.2 640.7,596.1 643.5,604.1 646.5,601.5 649.1,604.7 651.7,639.6 654.5,633.2 657.5,620.6 660.1,622.6 663.1,643.2 666.2,658.3 668.6,658.9 671.2,661.3 674.6,692.0 677.6,695.0 680.4,688.4 683.4,676.3 686.0,668.9 688.4,663.7 691.3,615.2 694.3,619.2 697.3,606.8 700.3,626.2 703.3,618.2 706.1,616.2 708.5,613.2 711.5,607.6 714.3,605.2 717.3,593.1 720.1,582.1 723.1,596.1 726.1,582.5 728.5,603.1 731.6,584.1 734.2,583.1 737.2,602.7 740.2,604.7 743.4,608.8 746.2,606.2 748.6,599.5 751.4,593.5 754.4,623.2 757.4,641.6 759.8,625.2 762.8,603.1 765.2,588.5 768.2,589.1 771.5,579.5 774.3,589.5 777.3,582.1 780.3,573.5 783.3,579.5 785.3,604.1 788.3,614.2 791.3,616.6 794.3,605.2 797.3,612.8 800.3,605.2 803.3,603.1 805.9,601.7 808.3,601.7 811.4,582.1 814.4,572.1 817.4,565.1 820.4,562.4 823.4,575.1 825.8,577.5 828.4,577.1 831.4,567.1 834.4,561.4 837.4,564.0 840.0,562.0 842.4,561.0 845.6,595.1 848.4,589.1 851.5,591.1 854.5,588.1 857.5,601.1 860.5,618.2 862.7,604.1 865.5,608.8 868.5,647.7 871.5,599.1 874.5,588.5 877.5,588.5 880.1,598.1 882.5,652.3 885.5,664.7 888.5,654.3 891.6,648.3 894.4,652.3 897.4,625.2 900.2,650.1 902.6,659.1 905.6,662.8 908.4,660.8 911.4,656.5 914.4,668.2 917.3,677.6 920.1,671.6 923.1,668.2 925.5,667.6 928.3,669.8 931.1,665.2 934.1,658.1 936.9,650.1 939.5,643.1 942.3,642.5 945.1,648.1 948.1,674.8 951.1,669.2 954.1,653.1 957.4,703.7 959.6,688.2 962.6,682.2 965.4,688.6 968.4,677.2 971.4,667.2 974.6,646.5 977.2,658.1 979.6,669.2 982.4,672.8 985.4,661.2 988.4,657.1 991.2,663.6 993.8,645.1 996.5,629.7 999.9,652.1 1002.7,658.1 1005.5,649.1 1008.5,645.7 1011.5,635.1 1014.3,633.7 1016.5,673.2 1019.3,675.6 1022.3,675.2 1025.3,678.8 1028.3,675.2 1031.3,669.2 1033.9,658.1 1036.6,649.7 1039.4,656.1 1042.4,653.7 1045.6,644.1 1048.6,638.1 1051.4,660.2 1053.6,688.6 1056.4,688.2 1059.4,697.2 1062.4,701.9 1065.2,697.6 1068.4,721.3 1071.4,746.4 1073.6,723.7 1076.5,728.3 1079.5,729.3 1082.5,720.9 1085.5,700.3 1088.5,705.9 1091.3,693.2 1093.9,701.3 1096.5,703.9 1099.5,711.3 1102.3,726.7 1105.5,679.2 1108.3,675.8 1111.1,679.2 1113.5,680.2 1116.6,688.2 1119.4,677.2 1122.4,641.1 1125.2,633.1 1128.2,623.5 1131.1,635.1 1133.5,634.1 1136.7,671.2 1139.7,680.2 1142.5,665.2 1145.5,669.2 1148.3,673.6 1150.7,681.2 1153.7,663.2 1156.3,665.2 1159.5,655.6 1162.5,649.1 1165.5,638.1 1168.3,627.5 1170.8,653.2 1173.2,656.2 1176.4,672.2 1179.4,664.2 1182.4,657.8 1185.2,659.2 1188.2,653.2 1191.0,649.7 1193.8,644.5 1196.4,647.1 1199.4,635.7 1202.2,633.5 1204.6,658.2 1207.4,685.2 1210.3,683.8 1213.3,683.6 1216.3,697.3 1219.5,709.9 1222.3,714.3 1225.3,693.7 1227.9,699.3 1230.5,694.9 1233.5,711.3 1236.3,726.3 1239.3,723.7 1242.3,736.4 1244.9,724.3 1247.7,699.7 1250.6,704.3 1253.4,690.3 1256.4,667.2 1259.2,645.1 1262.0,640.1 1265.4,623.1 1267.8,622.7 1270.6,626.1 1273.4,625.7" fill="none" stroke="#7e57c2" stroke-width="1.05" stroke-linejoin="round"/>
<line x1="777.0" y1="546.0" x2="1404.0" y2="675.5" stroke="#2196f3" stroke-width="1.1" stroke-opacity="0.95"/>
<circle cx="1267.8" cy="629.8" r="19.8" fill="rgb(255,152,0)" fill-opacity="0.22" stroke="#ff9800" stroke-width="1"/>
</g>
<rect x="0" y="537" width="1844" height="1" fill="#e0e3eb"/>
<rect x="1763" y="0" width="1" height="798" fill="#d8dadf"/>
<rect x="0" y="765" width="1844" height="1" fill="#d8dadf"/>
<rect x="1764" y="36" width="4" height="1" fill="#e0e3eb"/>
<rect x="1764" y="79" width="4" height="1" fill="#e0e3eb"/>
<rect x="1764" y="122" width="4" height="1" fill="#e0e3eb"/>
<rect x="1764" y="165" width="4" height="1" fill="#e0e3eb"/>
<rect x="1764" y="208" width="4" height="1" fill="#e0e3eb"/>
<rect x="1764" y="251" width="4" height="1" fill="#e0e3eb"/>
<rect x="1764" y="295" width="4" height="1" fill="#e0e3eb"/>
<rect x="1764" y="338" width="4" height="1" fill="#e0e3eb"/>
<rect x="1764" y="381" width="4" height="1" fill="#e0e3eb"/>
<rect x="1764" y="424" width="4" height="1" fill="#e0e3eb"/>
<rect x="1764" y="467" width="4" height="1" fill="#e0e3eb"/>
<rect x="1764" y="510" width="4" height="1" fill="#e0e3eb"/>
<rect x="1764" y="564" width="4" height="1" fill="#e0e3eb"/>
<rect x="1764" y="627" width="4" height="1" fill="#e0e3eb"/>
<rect x="1764" y="689" width="4" height="1" fill="#e0e3eb"/>
<rect x="1764" y="751" width="4" height="1" fill="#e0e3eb"/>
<rect x="87" y="766" width="1" height="4" fill="#d8dadf"/>
<rect x="207" y="766" width="1" height="4" fill="#d8dadf"/>
<rect x="343" y="766" width="1" height="4" fill="#d8dadf"/>
<rect x="463" y="766" width="1" height="4" fill="#d8dadf"/>
<rect x="583" y="766" width="1" height="4" fill="#d8dadf"/>
<rect x="720" y="766" width="1" height="4" fill="#d8dadf"/>
<rect x="840" y="766" width="1" height="4" fill="#d8dadf"/>
<rect x="1045" y="766" width="1" height="4" fill="#d8dadf"/>
<rect x="1165" y="766" width="1" height="4" fill="#d8dadf"/>
<rect x="1287" y="766" width="1" height="4" fill="#d8dadf"/>
<rect x="1424" y="766" width="1" height="4" fill="#d8dadf"/>
<rect x="1544" y="766" width="1" height="4" fill="#d8dadf"/>
<rect x="1664" y="766" width="1" height="4" fill="#d8dadf"/>
<circle cx="1805.5" cy="784.5" r="5.3" fill="none" stroke="#131722" stroke-width="1.2"/>
<line x1="1811.30" y1="784.50" x2="1813.30" y2="784.50" stroke="#131722" stroke-width="1.1"/>
<line x1="1809.60" y1="788.60" x2="1811.02" y2="790.02" stroke="#131722" stroke-width="1.1"/>
<line x1="1805.50" y1="790.30" x2="1805.50" y2="792.30" stroke="#131722" stroke-width="1.1"/>
<line x1="1801.40" y1="788.60" x2="1799.98" y2="790.02" stroke="#131722" stroke-width="1.1"/>
<line x1="1799.70" y1="784.50" x2="1797.70" y2="784.50" stroke="#131722" stroke-width="1.1"/>
<line x1="1801.40" y1="780.40" x2="1799.98" y2="778.98" stroke="#131722" stroke-width="1.1"/>
<line x1="1805.50" y1="778.70" x2="1805.50" y2="776.70" stroke="#131722" stroke-width="1.1"/>
<line x1="1809.60" y1="780.40" x2="1811.02" y2="778.98" stroke="#131722" stroke-width="1.1"/>
<circle cx="109" cy="14" r="9" fill="#26a69a" fill-opacity="0.18"/>
<circle cx="109" cy="14" r="4.2" fill="#089981"/>
</svg>

<div class="t" style="left:7px;top:5px;font-size:16px;line-height:20px;letter-spacing:-0.5px">Euro50 <span style="color:#9598a1">·</span> 4h</div>
<div class="t hd" style="left:134px">O</div><div class="t hv" style="left:143.5px">4464.90</div>
<div class="t hd" style="left:196px">H</div><div class="t hv" style="left:205px">4482.12</div>
<div class="t hd" style="left:257px">B</div><div class="t hv" style="left:265px">4460.90</div>
<div class="t hd" style="left:317px">C</div><div class="t hv" style="left:326px">4465.91</div>
<div class="t hv" style="left:378px;letter-spacing:-0.25px">+0.43</div><div class="t hv" style="left:414.5px;letter-spacing:-0.5px">(+0.01%)</div>
<div class="box" style="left:6px;width:59.7px;border-color:#ef5350;color:#ef5350">4465.91</div>
<div class="box" style="left:112px;width:59.7px;border-color:#26a69a;color:#26a69a">4467.31</div>
<div class="t" style="left:72px;top:30px;width:36px;text-align:center;font-size:11px;line-height:14px;color:#50535e">1.40</div>
<div class="t" style="left:72px;top:46px;width:36px;height:22px;line-height:22px;text-align:center;font-size:13px;background:#f8f9fd;border-radius:4px;color:#131722">200</div>
<div class="t" style="left:7px;top:548px;font-size:12px;line-height:14px;color:#131722;letter-spacing:-0.1px">RSI 14 <span style="color:#7e57c2;margin-left:4px;letter-spacing:0.2px">60.39</span></div>

<div class="pl" style="top:25.0px;height:23px;line-height:23px;color:#131722">4625.00</div><div class="pl" style="top:68.0px;height:23px;line-height:23px;color:#131722">4600.00</div><div class="pl" style="top:111.0px;height:23px;line-height:23px;color:#131722">4575.00</div><div class="pl" style="top:154.0px;height:23px;line-height:23px;color:#131722">4550.00</div><div class="pl" style="top:197.0px;height:23px;line-height:23px;color:#131722">4525.00</div><div class="pl" style="top:284.0px;height:23px;line-height:23px;color:#131722">4475.00</div><div class="pl" style="top:413.0px;height:23px;line-height:23px;color:#131722">4400.00</div><div class="pl" style="top:499.0px;height:23px;line-height:23px;color:#131722">4350.00</div><div class="pl" style="top:553.0px;height:23px;line-height:23px;color:#131722">80.00</div><div class="pl" style="top:616.0px;height:23px;line-height:23px;color:#131722">60.00</div><div class="pl" style="top:678.0px;height:23px;line-height:23px;color:#131722">40.00</div><div class="pl" style="top:740.0px;height:23px;line-height:23px;color:#131722">20.00</div><div class="pl" style="top:533px;height:4px;background:#4caf50;border-radius:0"></div><div class="pl b" style="top:88.0px;height:25px;line-height:28px;background:#f44336;color:#fff;font-weight:bold"><i></i>4587.62</div><div class="pl b" style="top:240.0px;height:25px;line-height:28px;background:#f44336;color:#fff;font-weight:bold"><i></i>4499.53</div><div class="pl b" style="top:322.0px;height:25px;line-height:28px;background:#4caf50;color:#fff;font-weight:bold"><i></i>4458.54</div><div class="pl b" style="top:346.0px;height:25px;line-height:28px;background:#4caf50;color:#fff;font-weight:bold"><i></i>4442.88</div><div class="pl b" style="top:371.0px;height:25px;line-height:28px;background:#4caf50;color:#fff;font-weight:bold"><i></i>4430.12</div><div class="pl b" style="top:452.0px;height:25px;line-height:28px;background:#4caf50;color:#fff;font-weight:bold"><i></i>4376.52</div><div class="pl b" style="top:298.0px;height:25px;line-height:28px;background:#26a69a;color:#fff;font-weight:bold"><i></i>4465.91</div><div class="sym">Euro50</div><div class="tl" style="left:87.0px">11</div><div class="tl" style="left:207.0px">20</div><div class="tl" style="left:343.5px">Nov</div><div class="tl" style="left:463.5px">10</div><div class="tl" style="left:582.5px">21</div><div class="tl" style="left:720.0px">Déc</div><div class="tl" style="left:840.0px">12</div><div class="tl" style="left:1045.5px;font-weight:bold;letter-spacing:0.4px">2024</div><div class="tl" style="left:1164.5px">11</div><div class="tl" style="left:1287.5px">22</div><div class="tl" style="left:1424.5px">Févr</div><div class="tl" style="left:1544.0px">12</div><div class="tl" style="left:1663.5px">21</div>
</body></html>
